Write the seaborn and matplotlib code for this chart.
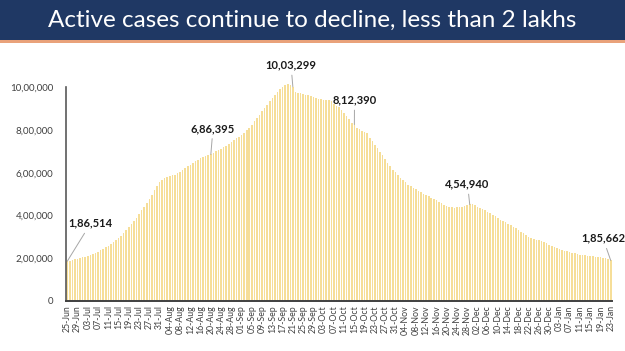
import matplotlib
matplotlib.use("Agg")
import matplotlib.pyplot as plt
from matplotlib.patches import Rectangle
import seaborn as sns
import pandas as pd

# ---------------- data ----------------
dates = pd.date_range("2020-06-25", "2021-01-23", freq="D").strftime("%d-%b").tolist()

active_cases = [
    186514, 189000, 192000, 195000, 198000, 201000,                      # Jun 25-30
    204500, 208000, 212000, 216500, 221000, 226000, 231000, 238000,      # Jul 1-8
    245000, 252000, 259000, 267000, 276000, 285000, 295000, 305000,      # Jul 9-16
    318000, 332000, 346000, 360000, 375000, 391000, 407000, 424000,      # Jul 17-24
    441000, 458000, 478000, 498000, 518000, 538000, 556000,              # Jul 25-31
    568000, 576000, 580000, 584000, 588000, 592000, 598000, 606000,      # Aug 1-8
    614000, 622000, 630000, 638000, 646000, 654000, 661000, 668000,      # Aug 9-16
    674000, 680000, 684000, 686395, 694000, 702000, 707000, 712000,      # Aug 17-24
    720000, 728000, 737000, 746000, 754000, 762000, 770000,              # Aug 25-31
    778000, 789000, 800000, 812000, 826000, 841000, 857000, 873000,      # Sep 1-8
    889000, 905000, 920000, 936000, 951000, 966000, 980000, 993000,      # Sep 9-16
    1004000, 1012000, 1017754, 1010000, 1003299, 980000, 975000,         # Sep 17-23
    972000, 968000, 966000, 964000, 961000, 957000, 953000,              # Sep 24-30
    948000, 945000, 942000, 941000, 940000, 938000, 925000, 915000,      # Oct 1-8
    908000, 895000, 882000, 868000, 852000, 836000, 826876, 812390,      # Oct 9-16
    805000, 797000, 790000, 785000, 765000, 748000, 732000, 718000,      # Oct 17-24
    700000, 683000, 665000, 647000, 630000, 615000, 602000,              # Oct 25-31
    590000, 578000, 567000, 556000, 545000, 537000, 530000, 523000,      # Nov 1-8
    517000, 510000, 503000, 496000, 490000, 484000, 478000, 471000,      # Nov 9-16
    465000, 458000, 451000, 444000, 440000, 438000, 437000, 438000,      # Nov 17-24
    439000, 442000, 445000, 449000, 452000, 454940,                      # Nov 25-30
    448000, 442000, 436000, 431000, 425000, 419000, 413000, 405000,      # Dec 1-8
    397000, 389000, 381000, 375000, 368000, 362000, 356000, 348000,      # Dec 9-16
    340000, 332000, 325000, 317000, 309000, 301000, 294000, 290000,      # Dec 17-24
    287000, 284000, 282000, 276000, 270000, 264000, 258000,              # Dec 25-31
    253000, 248000, 243000, 239000, 235000, 232000, 229000, 226000,      # Jan 1-8
    223000, 220000, 217000, 215000, 214000, 213000, 211000, 210000,      # Jan 9-16
    208000, 207000, 205000, 203000, 200000, 196000, 190000, 185662,      # Jan 17-24
]
active_cases = active_cases[:len(dates)]

y_ticks = [0, 200000, 400000, 600000, 800000, 1000000]
y_tick_labels = ["0", "2,00,000", "4,00,000", "6,00,000", "8,00,000", "10,00,000"]

callout_index = [0, 56, 88, 112, 157, 212]
callout_text = ["1,86,514", "6,86,395", "10,03,299", "8,12,390", "4,54,940", "1,85,662"]

title = "Active cases continue to decline, less than 2 lakhs"

# ---------------- styling ----------------
sns.set_theme(style="white")
plt.rcParams["font.family"] = ["Lato", "DejaVu Sans"]

W, H = 625, 351
fig = plt.figure(figsize=(W / 100, H / 100), dpi=100)
fig.patch.set_facecolor("white")

# title banner
fig.patches.append(Rectangle((0, 1 - 40 / H), 1, 40 / H, transform=fig.transFigure,
                             facecolor="#1F3864", edgecolor="none", zorder=0))
fig.patches.append(Rectangle((0, 1 - 43 / H), 1, 3 / H, transform=fig.transFigure,
                             facecolor="#E9A27A", edgecolor="none", zorder=0))
fig.text(0.5, 1 - 20 / H, title, color="white", fontsize=17.5, ha="center", va="center")

ax_left, ax_right = 66 / W, 612 / W
ax_bottom = 1 - 301 / H
ymax = 1030000
ax_top = 1 - (301 - ymax / 1e6 * 213.5) / H
ax = fig.add_axes([ax_left, ax_bottom, ax_right - ax_left, ax_top - ax_bottom])

df = pd.DataFrame({"date": dates, "active": active_cases})
sns.barplot(data=df, x="date", y="active", color="#F6DE98", saturation=1,
            width=0.62, edgecolor="none", ax=ax)

ax.set_xlim(-0.5, len(dates) - 0.5)
ax.set_ylim(0, ymax)
ax.set_xlabel("")
ax.set_ylabel("")

tick_pos = list(range(0, len(dates), 4))
ax.set_xticks(tick_pos)
ax.set_xticklabels([dates[i] for i in tick_pos], rotation=90, fontsize=6.3, color="#404040")
ax.set_yticks(y_ticks)
ax.set_yticklabels(y_tick_labels, fontsize=7, color="#404040")
ax.tick_params(axis="both", length=0)
ax.tick_params(axis="y", pad=9)
ax.tick_params(axis="x", pad=3)

for s in ["top", "right"]:
    ax.spines[s].set_visible(False)
ax.spines["left"].set_color("#595959")
ax.spines["left"].set_linewidth(1.2)
ax.spines["left"].set_bounds(0, 1000000)
ax.spines["bottom"].set_color("#404040")
ax.spines["bottom"].set_linewidth(1.4)
ax.grid(False)

# callout label positions (pixel coordinates of label centres)
label_px = [(90.7, 223.3), (213, 128.5), (291, 65), (354.5, 100), (467.5, 184), (603, 238.3)]
n = len(dates)
for idx, txt, (px, py) in zip(callout_index, callout_text, label_px):
    xd = (px - 66) / 546 * n - 0.5
    yd = (301 - py) / 213.5 * 1e6
    ax.annotate(txt, xy=(idx, active_cases[idx]), xytext=(xd, yd),
                textcoords="data", ha="center", va="center",
                fontsize=8, fontweight="bold", color="#1a1a1a",
                annotation_clip=False,
                arrowprops=dict(arrowstyle="-", color="#A6A6A6", lw=0.7,
                                shrinkA=1, shrinkB=0))

fig.savefig("out.png", dpi=100)
